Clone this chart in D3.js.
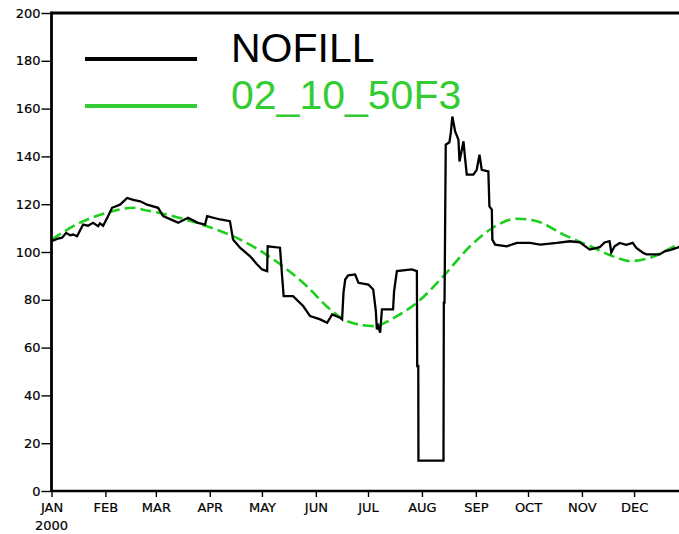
<!DOCTYPE html>
<html><head><meta charset="utf-8">
<script src="https://cdn.jsdelivr.net/npm/d3@7"></script>
<style>body{margin:0;background:#fff}svg{display:block}
.tk{font-family:"DejaVu Sans",sans-serif;font-size:13px;fill:#000;stroke:#000;stroke-width:0.2px}
</style>
</head><body>
<svg id="c" width="679" height="534"></svg>
<script>
// ---- data (day of year 2000, value) ----
const yTicks = [0,20,40,60,80,100,120,140,160,180,200];
const monthLabels = ["JAN","FEB","MAR","APR","MAY","JUN","JUL","AUG","SEP","OCT","NOV","DEC"];
const seriesNames = ["NOFILL","02_10_50F3"];
const nofill = [[0,104.5],[3.2,105.5],[6.1,106],[8.4,108],[10.7,107],[12.4,107.3],[14.7,106.6],[16.4,109],[18.2,111.5],[21,111],[23.9,112.2],[26.8,110.8],[27.9,112],[29.7,111],[32.5,115],[34.8,118.5],[39.4,119.8],[43.5,122.6],[47,121.8],[51,121.2],[55,119.8],[61.3,118.5],[64.2,115],[70.8,112.9],[72.9,112.2],[78.5,114.3],[84.2,112.2],[88.3,111.5],[89.5,115],[97,113.6],[102.6,112.9],[104.4,105.2],[108.4,101.8],[114.2,98.2],[118,95],[121.1,92.7],[124,92],[124.3,102.4],[131.4,101.8],[132.6,89.9],[133.5,81.5],[138.9,81.5],[144.7,77.4],[148.7,73.2],[154.5,71.8],[158.5,70.4],[161.4,73.9],[165.9,72.5],[167.1,71.8],[167.9,83],[168.9,88.5],[170.6,90.2],[174.6,90.6],[176.5,87.1],[182.2,86.4],[185,84.3],[186.5,75.3],[187.1,67.6],[187.8,69],[189,66.3],[190,76],[196.4,76],[197,83.6],[198.6,92],[207.2,92.7],[210.1,92],[210.3,52.3],[210.9,52.3],[211,12.7],[225.4,12.7],[225.6,78.8],[226,78.8],[226.7,144.9],[228.8,145.9],[229.6,149.8],[230.5,156.7],[232.1,150.4],[234,147],[234.6,137.9],[236.9,146.3],[237.8,139.3],[238.8,132.4],[242.6,132.4],[244.5,134.4],[246.1,140.7],[247.4,134.4],[251.2,133.7],[251.8,119.1],[253.2,117.7],[253.5,105.2],[255.1,103.1],[261.8,102.4],[267.6,103.8],[275.2,103.8],[281,103.1],[290.6,103.8],[298.2,104.5],[303.8,104],[309.5,101],[315.2,102],[318,104],[320.9,104.5],[321.9,99.8],[323.8,102.4],[326.7,103.8],[330.5,103],[334.2,103.8],[336.3,101.7],[340.1,99.7],[342.1,99],[349.7,99],[352.6,100.3],[356.5,101],[359.4,101.7],[362,102.5],[366,103]];
const fit = [[0,105.2],[18.3,112.9],[31.8,116.4],[47.1,118.5],[52.8,117.7],[70.1,115],[89.3,110.8],[108.5,105.2],[127.6,96.9],[146.8,85.7],[160.2,76],[169.8,71.1],[185.1,69],[198.6,73.2],[210.1,78.8],[225.4,89.9],[240.7,102.4],[252.2,109.4],[267.6,113.9],[279.1,112.9],[294.4,107.3],[309.8,102.4],[325.1,97.6],[332.8,96.2],[344.3,97.6],[360.5,103.1],[366,104.5]];

const start = new Date(2000,0,1), end = new Date(2001,0,1);
const toDate = d => new Date(start.getTime() + d*864e5);

const L = 51.5, R = 688, T = 13, B = 491;
const svg = d3.select("#c");
const x = d3.scaleTime().domain([start,end]).range([L,R]);
const y = d3.scaleLinear().domain([0,200]).range([B,T]);

// data lines
svg.append("path").datum(fit)
  .attr("d", d3.line().x(d=>x(toDate(d[0]))).y(d=>y(d[1])).curve(d3.curveMonotoneX))
  .attr("fill","none").attr("stroke","#1ccf1c").attr("stroke-width",2.6)
  .attr("stroke-dasharray","11,5");
svg.append("path").datum(nofill)
  .attr("d", d3.line().x(d=>x(toDate(d[0]))).y(d=>y(d[1])))
  .attr("fill","none").attr("stroke","#000").attr("stroke-width",2.3)
  .attr("stroke-linejoin","miter");

// frame
svg.append("line").attr("x1",L).attr("x2",R).attr("y1",T).attr("y2",T).attr("stroke","#000").attr("stroke-width",3);
svg.append("line").attr("x1",L).attr("x2",R).attr("y1",B).attr("y2",B).attr("stroke","#000").attr("stroke-width",2.4);
svg.append("line").attr("x1",L).attr("x2",L).attr("y1",T-1.5).attr("y2",B+1).attr("stroke","#000").attr("stroke-width",2.8);

// y axis
const yAx = svg.append("g").attr("transform",`translate(${L},0)`)
  .call(d3.axisLeft(y).tickValues(yTicks).tickSize(10).tickPadding(1));
yAx.attr("font-size",null).attr("font-family",null);
yAx.select(".domain").remove();
yAx.selectAll(".tick line").attr("stroke","#000").attr("stroke-width",1.4);
yAx.selectAll("text").attr("class","tk").attr("fill",null);

// x axis
const months = d3.timeMonth.range(start,end);
const xAx = svg.append("g").attr("transform",`translate(0,${B})`)
  .call(d3.axisBottom(x).tickValues(months).tickSize(6).tickPadding(6).tickFormat((d,i)=>monthLabels[i]));
xAx.attr("font-size",null).attr("font-family",null);
xAx.select(".domain").remove();
xAx.selectAll(".tick line").attr("stroke","#000").attr("stroke-width",1.4);
xAx.selectAll("text").attr("class","tk").attr("fill",null);
svg.append("text").attr("class","tk").attr("x",x(start)).attr("y",530).attr("text-anchor","middle").text("2000");

// legend
const legColors = ["#000","#33cc33"];
const legY = [59,106];
seriesNames.forEach((n,i)=>{
  svg.append("line").attr("x1",85).attr("x2",197).attr("y1",legY[i]).attr("y2",legY[i])
    .attr("stroke",legColors[i]).attr("stroke-width",4);
  svg.append("text").attr("x",231).attr("y",legY[i]+3).attr("font-family","'Liberation Sans',Arial,sans-serif")
    .attr("font-size",41).attr("fill",legColors[i]).text(n);
});
</script>
</body></html>
